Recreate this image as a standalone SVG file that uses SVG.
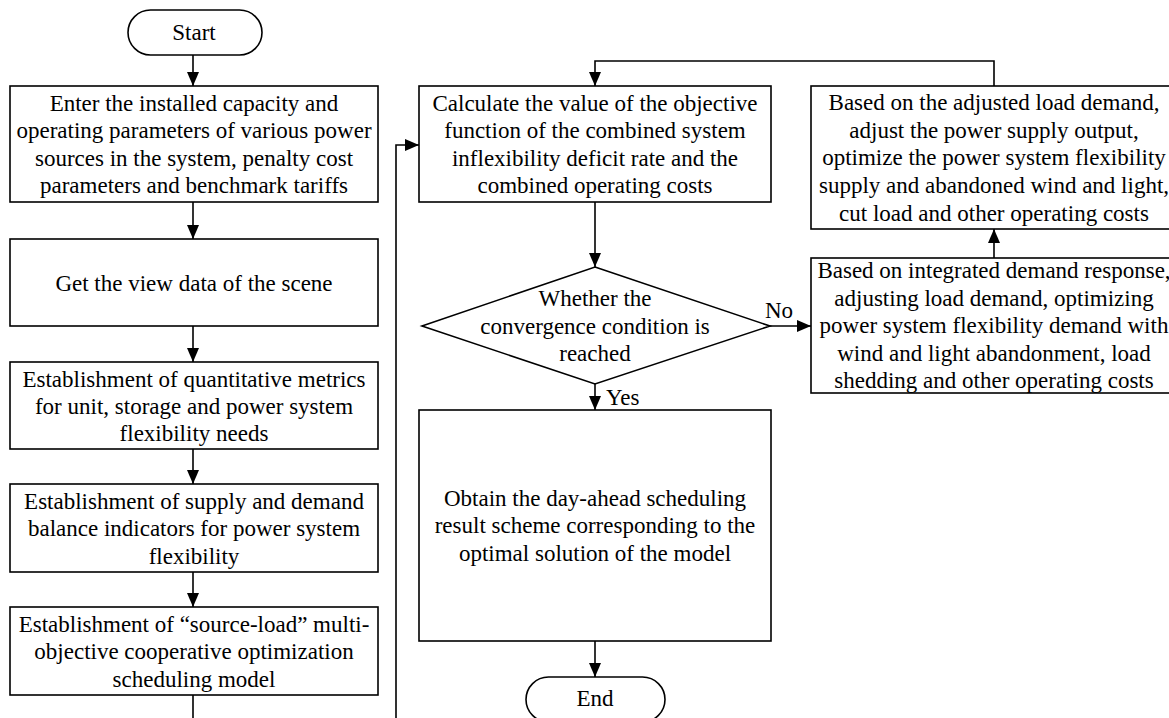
<svg xmlns="http://www.w3.org/2000/svg" width="1169" height="718" viewBox="0 0 1169 718">
<style>
.box{fill:#fff;stroke:#000;stroke-width:1.6}
.ln{fill:none;stroke:#000;stroke-width:1.6}
.t{font-size:23px;fill:#000;text-anchor:middle}
.lbl{font-size:23px;fill:#000;text-anchor:start}
</style>
<defs>
<marker id="ah" markerUnits="userSpaceOnUse" markerWidth="14" markerHeight="12" refX="14" refY="6" orient="auto">
<path d="M0,0 L14,6 L0,12 Z" fill="#000"/>
</marker>
</defs>
<rect width="1169" height="718" fill="#fff"/>
<g font-family="Liberation Serif, Times New Roman, serif">
<g id="connectors">
<line class="ln" x1="193" y1="55" x2="193" y2="86" marker-end="url(#ah)"/>
<line class="ln" x1="193" y1="202" x2="193" y2="239" marker-end="url(#ah)"/>
<line class="ln" x1="193" y1="326" x2="193" y2="362" marker-end="url(#ah)"/>
<line class="ln" x1="193" y1="449" x2="193" y2="484" marker-end="url(#ah)"/>
<line class="ln" x1="193" y1="572" x2="193" y2="607" marker-end="url(#ah)"/>
<path class="ln" d="M193,695 V730 H396 V145 H419" marker-end="url(#ah)"/>
<line class="ln" x1="595" y1="202" x2="595" y2="267" marker-end="url(#ah)"/>
<line class="ln" x1="770" y1="326" x2="811" y2="326" marker-end="url(#ah)"/>
<text class="lbl" x="765" y="318">No</text>
<line class="ln" x1="595" y1="384" x2="595" y2="410" marker-end="url(#ah)"/>
<text class="lbl" x="606" y="405">Yes</text>
<line class="ln" x1="994" y1="258" x2="994" y2="229" marker-end="url(#ah)"/>
<path class="ln" d="M994,86 V61 H595 V86" marker-end="url(#ah)"/>
<line class="ln" x1="595" y1="641" x2="595" y2="677" marker-end="url(#ah)"/>
</g>
<g id="start">
<rect class="box" x="128" y="10" width="134" height="45" rx="22.5"/>
<text class="t" x="194" y="40">Start</text>
</g>
<g id="input">
<rect class="box" x="10" y="86" width="368" height="116"/>
<text class="t" x="194" y="110.5">Enter the installed capacity and</text>
<text class="t" x="194" y="138">operating parameters of various power</text>
<text class="t" x="194" y="165.5">sources in the system, penalty cost</text>
<text class="t" x="194" y="193">parameters and benchmark tariffs</text>
</g>
<g id="scene">
<rect class="box" x="10" y="239" width="368" height="87"/>
<text class="t" x="194" y="290.5">Get the view data of the scene</text>
</g>
<g id="metrics">
<rect class="box" x="10" y="362" width="368" height="87"/>
<text class="t" x="194" y="387">Establishment of quantitative metrics</text>
<text class="t" x="194" y="414">for unit, storage and power system</text>
<text class="t" x="194" y="441">flexibility needs</text>
</g>
<g id="balance">
<rect class="box" x="10" y="484" width="368" height="88"/>
<text class="t" x="194" y="509">Establishment of supply and demand</text>
<text class="t" x="194" y="536">balance indicators for power system</text>
<text class="t" x="194" y="563.5">flexibility</text>
</g>
<g id="model">
<rect class="box" x="10" y="607" width="368" height="88"/>
<text class="t" x="194" y="631.5">Establishment of “source-load” multi-</text>
<text class="t" x="194" y="659">objective cooperative optimization</text>
<text class="t" x="194" y="686.5">scheduling model</text>
</g>
<g id="calculate">
<rect class="box" x="419" y="86" width="352" height="116"/>
<text class="t" x="595" y="110.5">Calculate the value of the objective</text>
<text class="t" x="595" y="138">function of the combined system</text>
<text class="t" x="595" y="165.5">inflexibility deficit rate and the</text>
<text class="t" x="595" y="193">combined operating costs</text>
</g>
<g id="decision">
<polygon class="box" points="595,267 770,326 595,384 422,326"/>
<text class="t" x="595" y="305.5">Whether the</text>
<text class="t" x="595" y="333.5">convergence condition is</text>
<text class="t" x="595" y="361">reached</text>
</g>
<g id="result">
<rect class="box" x="419" y="410" width="352" height="231"/>
<text class="t" x="595" y="505.5">Obtain the day-ahead scheduling</text>
<text class="t" x="595" y="533">result scheme corresponding to the</text>
<text class="t" x="595" y="560.5">optimal solution of the model</text>
</g>
<g id="end">
<rect class="box" x="526" y="677" width="139" height="45" rx="22.5"/>
<text class="t" x="595" y="706">End</text>
</g>
<g id="supply">
<rect class="box" x="811" y="86" width="366" height="143"/>
<text class="t" x="994" y="109.5">Based on the adjusted load demand,</text>
<text class="t" x="994" y="137.5">adjust the power supply output,</text>
<text class="t" x="994" y="165">optimize the power system flexibility</text>
<text class="t" x="994" y="192.5">supply and abandoned wind and light,</text>
<text class="t" x="994" y="220.5">cut load and other operating costs</text>
</g>
<g id="demand">
<rect class="box" x="811" y="258" width="366" height="135"/>
<text class="t" x="994" y="278">Based on integrated demand response,</text>
<text class="t" x="994" y="305.5">adjusting load demand, optimizing</text>
<text class="t" x="994" y="333">power system flexibility demand with</text>
<text class="t" x="994" y="360.5">wind and light abandonment, load</text>
<text class="t" x="994" y="388">shedding and other operating costs</text>
</g>
</g>
</svg>
